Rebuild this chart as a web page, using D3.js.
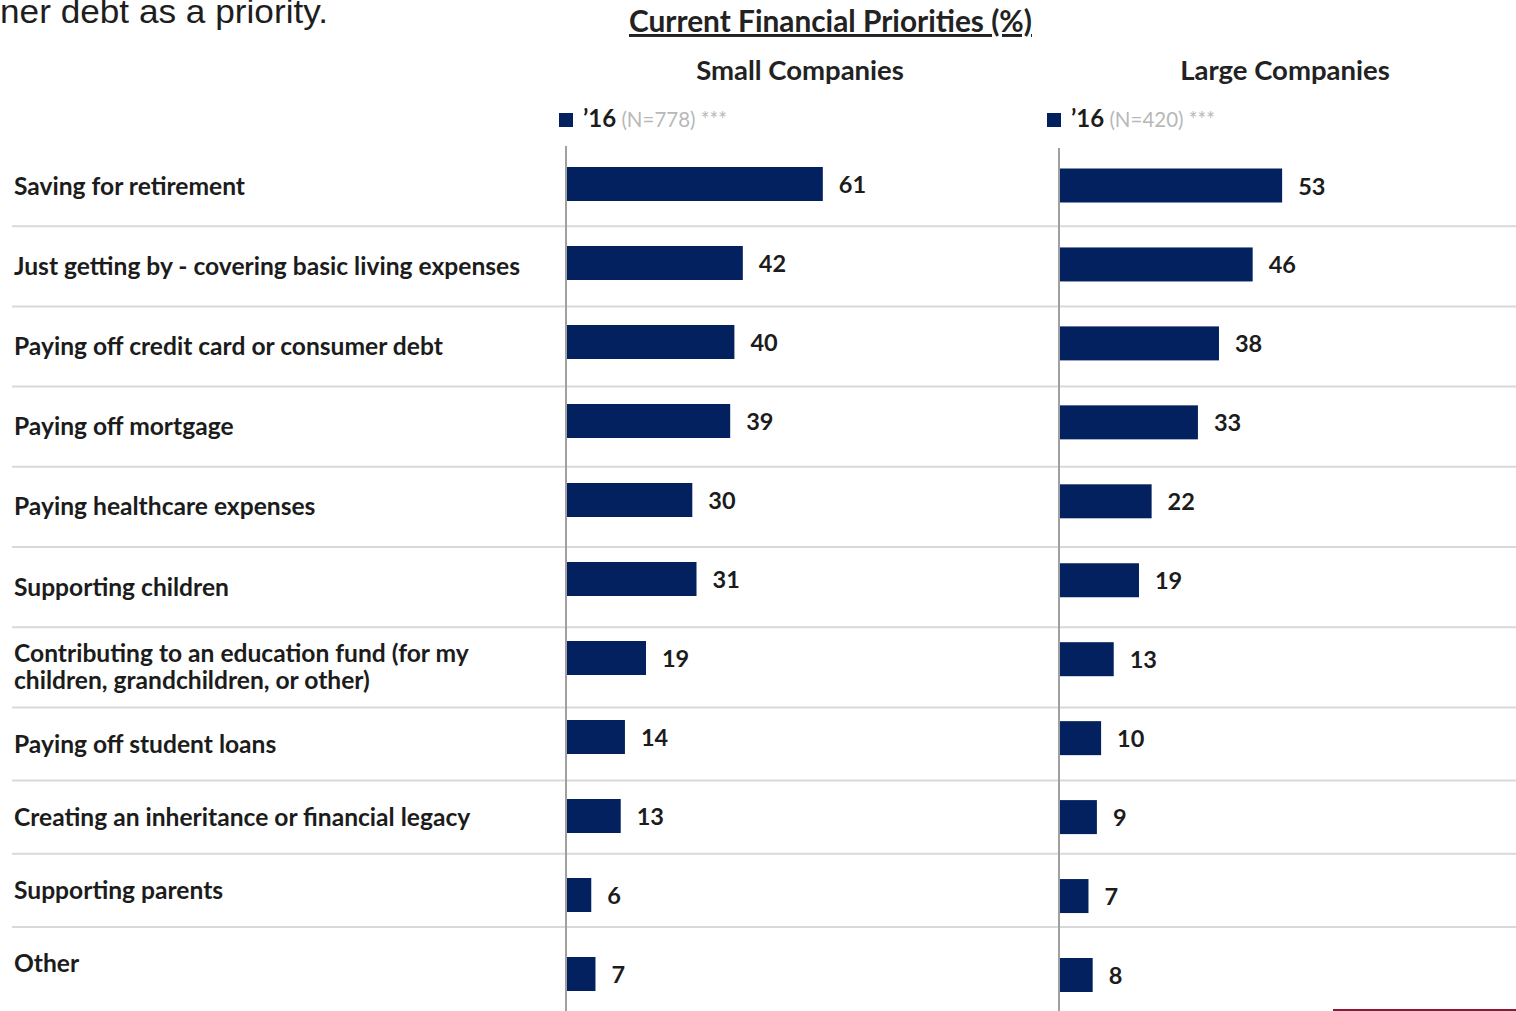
<!DOCTYPE html>
<html><head><meta charset="utf-8">
<script src="https://cdn.jsdelivr.net/npm/d3@7"></script>
<style>body{margin:0;background:#fff;overflow:hidden}</style>
</head><body>
<svg id="c" width="1516" height="1011"></svg>
<script>
const categories = [
  ["Saving for retirement"],
  ["Just getting by - covering basic living expenses"],
  ["Paying off credit card or consumer debt"],
  ["Paying off mortgage"],
  ["Paying healthcare expenses"],
  ["Supporting children"],
  ["Contributing to an education fund (for my", "children, grandchildren, or other)"],
  ["Paying off student loans"],
  ["Creating an inheritance or financial legacy"],
  ["Supporting parents"],
  ["Other"]
];
const smallValues = [61, 42, 40, 39, 30, 31, 19, 14, 13, 6, 7];
const largeValues = [53, 46, 38, 33, 22, 19, 13, 10, 9, 7, 8];
const panelTitles = ["Small Companies", "Large Companies"];
const legendYear = "\u201916";
const legendN = ["(N=778)", "(N=420)"];
const chartTitle = "Current Financial Priorities (%)";
const introText = "ner debt as a priority.";

const NAVY = "#03215e";
const FONT = "Lato, 'Open Sans', sans-serif";
const svg = d3.select("#c");

// intro text (continuation of a sentence, cut at the page edge)
svg.append("text").attr("x", 0).attr("y", 23)
  .attr("font-family", "'Liberation Sans', Arial, sans-serif").attr("font-size", 33)
  .attr("textLength", 328).attr("lengthAdjust", "spacingAndGlyphs")
  .attr("fill", "#1e1e1e").text(introText);

// title
svg.append("text").attr("x", 830.5).attr("y", 32).attr("text-anchor", "middle")
  .attr("font-family", FONT).attr("font-weight", 700).attr("font-size", 29.5)
  .attr("textLength", 403).attr("lengthAdjust", "spacingAndGlyphs")
  .attr("fill", "#222").attr("text-decoration", "underline").text(chartTitle);

// table rows (labels + separators)
const idx = categories.map((d, i) => i);
const rowHeights = idx.map(i => i < 7 ? 80.2 : 73.2);
const rowTops = [];
rowHeights.reduce((acc, h) => { rowTops.push(acc); return acc + h; }, 146);

svg.append("g").selectAll("line").data(idx.slice(1)).join("line")
  .attr("x1", 12).attr("x2", 1516)
  .attr("y1", i => rowTops[i]).attr("y2", i => rowTops[i])
  .attr("stroke", "#d9d9d9").attr("stroke-width", 2);

const lab = svg.append("g").selectAll("text").data(categories).join("text")
  .attr("font-family", FONT).attr("font-weight", 700).attr("font-size", 24.6)
  .attr("fill", "#1c1c1c").attr("x", 14)
  .attr("y", (d, i) => rowTops[i] + rowHeights[i] / 2 + 8.5 - (d.length - 1) * 13.5);
lab.selectAll("tspan").data(d => d).join("tspan")
  .attr("x", 14).attr("dy", (d, j) => j ? 27 : 0).text(d => d);

// panels
const x = d3.scaleLinear().domain([0, 100]).range([0, 421]);
const panels = [
  {vals: smallValues, x0: 566, yr: [184, 974], axisTop: 146, cx: 800, legX: 559},
  {vals: largeValues, x0: 1059, yr: [185.5, 975], axisTop: 148, cx: 1285, legX: 1047}
];
const barH = 34;

panels.forEach((p, k) => {
  const y = d3.scalePoint().domain(idx).range(p.yr);
  const g = svg.append("g");
  g.append("text").attr("x", p.cx).attr("y", 80).attr("text-anchor", "middle")
    .attr("font-family", FONT).attr("font-weight", 700).attr("font-size", 27.5)
    .attr("fill", "#222").text(panelTitles[k]);
  // legend
  g.append("rect").attr("x", p.legX).attr("y", 113).attr("width", 14).attr("height", 14).attr("fill", NAVY);
  const lt = g.append("text").attr("x", p.legX + 24).attr("y", 127)
    .attr("font-family", FONT).attr("font-size", 24);
  lt.append("tspan").attr("font-weight", 700).attr("fill", "#1c1c1c").text(legendYear);
  lt.append("tspan").attr("fill", "#b8b8b8").attr("font-size", 20.5).text(" " + legendN[k] + " ***");
  // bars
  g.selectAll("rect.bar").data(p.vals).join("rect").attr("class", "bar")
    .attr("x", p.x0).attr("y", (d, i) => y(i) - barH / 2)
    .attr("width", d => x(d)).attr("height", barH).attr("fill", NAVY);
  g.selectAll("text.val").data(p.vals).join("text").attr("class", "val")
    .attr("x", d => p.x0 + x(d) + 16).attr("y", (d, i) => y(i) + 9)
    .attr("font-family", FONT).attr("font-weight", 700).attr("font-size", 23.5)
    .attr("fill", "#1c1c1c").text(d => d);
  // axis line
  g.append("line").attr("x1", p.x0).attr("x2", p.x0).attr("y1", p.axisTop).attr("y2", 1011)
    .attr("stroke", "#a0a0a0").attr("stroke-width", 2);
});

// red accent line bottom right
svg.append("line").attr("x1", 1333).attr("x2", 1516).attr("y1", 1010).attr("y2", 1010)
  .attr("stroke", "#8c1a36").attr("stroke-width", 2);
</script>
</body></html>
